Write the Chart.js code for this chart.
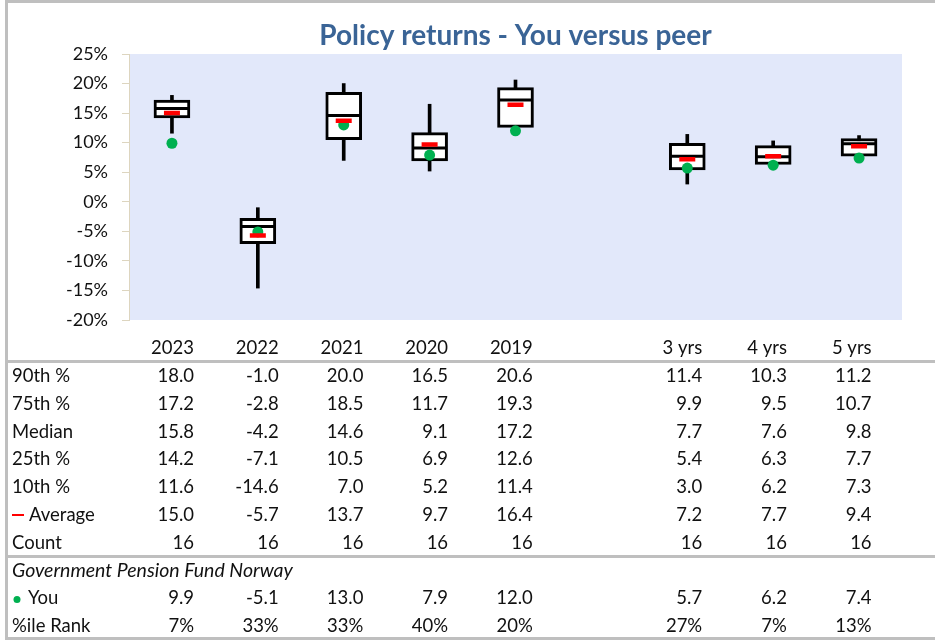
<!DOCTYPE html>
<html>
<head>
<meta charset="utf-8">
<script src="https://cdn.jsdelivr.net/npm/chart.js@4"></script>
<style>
  body { margin: 0; background: #fff; }
  canvas { display: block; }
</style>
</head>
<body>
<canvas id="policyReturns" width="935" height="640"></canvas>
<script>
/* Policy returns - box plot of peers vs. the fund, with stats table below */

// Categories (blank one is the gap between calendar years and multi-year periods)
const categories = ['2023', '2022', '2021', '2020', '2019', '', '3 yrs', '4 yrs', '5 yrs'];

// Peer distribution
const p90 = [18.0, -1.0, 20.0, 16.5, 20.6, null, 11.4, 10.3, 11.2];
const p75 = [17.2, -2.8, 18.5, 11.7, 19.3, null, 9.9, 9.5, 10.7];
const median = [15.8, -4.2, 14.6, 9.1, 17.2, null, 7.7, 7.6, 9.8];
const p25 = [14.2, -7.1, 10.5, 6.9, 12.6, null, 5.4, 6.3, 7.7];
const p10 = [11.6, -14.6, 7.0, 5.2, 11.4, null, 3.0, 6.2, 7.3];
const average = [15.0, -5.7, 13.7, 9.7, 16.4, null, 7.2, 7.7, 9.4];
const count = [16, 16, 16, 16, 16, null, 16, 16, 16];

// Government Pension Fund Norway
const you = [9.9, -5.1, 13.0, 7.9, 12.0, null, 5.7, 6.2, 7.4];
const rank = ['7%', '33%', '33%', '40%', '20%', '', '27%', '7%', '13%'];

// y axis ticks
const yMin = -20;
const yMax = 25;
const yStep = 5;

const FONT = 'Lato, "Open Sans", sans-serif';
const GREEN = '#00B050';
const RED = '#FF0000';

// floating bar pairs built from the arrays
const whiskers = categories.map((c, i) => p10[i] == null ? null : [p10[i], p90[i]]);
const boxes = categories.map((c, i) => p25[i] == null ? null : [p25[i], p75[i]]);

// light blue plot area
const plotBackground = {
  id: 'plotBackground',
  beforeDraw(chart) {
    const { ctx, chartArea: a } = chart;
    ctx.save();
    ctx.fillStyle = '#E2E8FA';
    ctx.fillRect(a.left, a.top, a.right - a.left, a.bottom - a.top);
    ctx.restore();
  }
};

// table of stats + frame lines
const statsTable = {
  id: 'statsTable',
  afterDraw(chart) {
    const ctx = chart.ctx;
    const colRight = i => 194 + i * 84.7;
    const rowY = k => 376 + k * 27.8;
    const fmt = v => v == null ? '' : v.toFixed(1);

    ctx.save();
    ctx.textBaseline = 'middle';
    ctx.fillStyle = '#111';
    ctx.font = '18.5px ' + FONT;

    // header (category names)
    ctx.textAlign = 'right';
    categories.forEach((c, i) => ctx.fillText(c, colRight(i), 348));

    const rows = [
      ['90th %', p90.map(fmt)],
      ['75th %', p75.map(fmt)],
      ['Median', median.map(fmt)],
      ['25th %', p25.map(fmt)],
      ['10th %', p10.map(fmt)],
      ['Average', average.map(fmt)],
      ['Count', count.map(v => v == null ? '' : String(v))],
      [null, null],
      ['You', you.map(fmt)],
      ['%ile Rank', rank]
    ];

    rows.forEach(([label, vals], k) => {
      const y = rowY(k);
      if (label == null) return;
      let x = 12;
      if (label === 'Average') {
        ctx.strokeStyle = RED;
        ctx.lineWidth = 2;
        ctx.beginPath();
        ctx.moveTo(12, y);
        ctx.lineTo(24, y);
        ctx.stroke();
        x = 29;
      } else if (label === 'You') {
        ctx.fillStyle = GREEN;
        ctx.beginPath();
        ctx.arc(17, y + 1, 3.5, 0, Math.PI * 2);
        ctx.fill();
        ctx.fillStyle = '#111';
        x = 28;
      }
      ctx.textAlign = 'left';
      ctx.fillText(label, x, y);
      ctx.textAlign = 'right';
      vals.forEach((v, i) => ctx.fillText(v, colRight(i), y));
    });

    ctx.textAlign = 'left';
    ctx.font = 'italic 19.5px ' + FONT;
    ctx.fillText('Government Pension Fund Norway', 12, rowY(7));

    // gray frame and separators
    ctx.strokeStyle = '#BFBFBF';
    ctx.lineWidth = 3;
    ctx.beginPath();
    ctx.moveTo(6.5, 0);
    ctx.lineTo(6.5, 640);
    ctx.moveTo(5, 1.5);
    ctx.lineTo(935, 1.5);
    ctx.moveTo(5, 361.5);
    ctx.lineTo(935, 361.5);
    ctx.moveTo(5, 556.5);
    ctx.lineTo(935, 556.5);
    ctx.moveTo(5, 638.5);
    ctx.lineTo(935, 638.5);
    ctx.stroke();
    ctx.restore();
  }
};

const ctxReturns = document.getElementById('policyReturns');

new Chart(ctxReturns, {
  type: 'bar',
  data: {
    labels: categories,
    datasets: [
      {
        label: 'You',
        type: 'line',
        data: you,
        showLine: false,
        pointStyle: 'circle',
        pointRadius: 5.5,
        pointBackgroundColor: GREEN,
        pointBorderWidth: 0,
        order: 2
      },
      {
        label: 'Average',
        type: 'line',
        data: average,
        showLine: false,
        pointStyle: 'line',
        pointRadius: 8,
        pointBorderColor: RED,
        pointBorderWidth: 4.5,
        order: 1
      },
      {
        label: 'Median',
        type: 'line',
        data: median,
        showLine: false,
        pointStyle: 'line',
        pointRadius: 17,
        pointBorderColor: '#000',
        pointBorderWidth: 3,
        order: 3
      },
      {
        label: '25th-75th',
        data: boxes,
        backgroundColor: '#fff',
        borderColor: '#000',
        borderWidth: 3,
        borderSkipped: false,
        barThickness: 36,
        grouped: false,
        order: 4
      },
      {
        label: '10th-90th',
        data: whiskers,
        backgroundColor: '#000',
        borderWidth: 0,
        barThickness: 3,
        grouped: false,
        order: 5
      }
    ]
  },
  options: {
    responsive: false,
    animation: false,
    layout: {
      padding: { top: 0, right: 33, bottom: 320, left: 0 }
    },
    plugins: {
      legend: { display: false },
      tooltip: { enabled: false },
      title: {
        display: true,
        text: 'Policy returns - You versus peer',
        color: '#3A6496',
        fullSize: false,
        font: { family: FONT, size: 28, weight: 'bold', lineHeight: 1.2 },
        padding: { top: 19, bottom: 1.4 }
      }
    },
    scales: {
      x: {
        display: false
      },
      y: {
        min: yMin,
        max: yMax,
        afterFit: axis => { axis.width = 129; },
        ticks: {
          stepSize: yStep,
          padding: 14,
          color: '#111',
          font: { family: FONT, size: 18 },
          callback: v => v + '%'
        },
        grid: {
          drawOnChartArea: false,
          tickLength: 7,
          color: '#DDD5BF'
        },
        border: { color: '#DDD5BF' }
      }
    }
  },
  plugins: [plotBackground, statsTable]
});
</script>
</body>
</html>
